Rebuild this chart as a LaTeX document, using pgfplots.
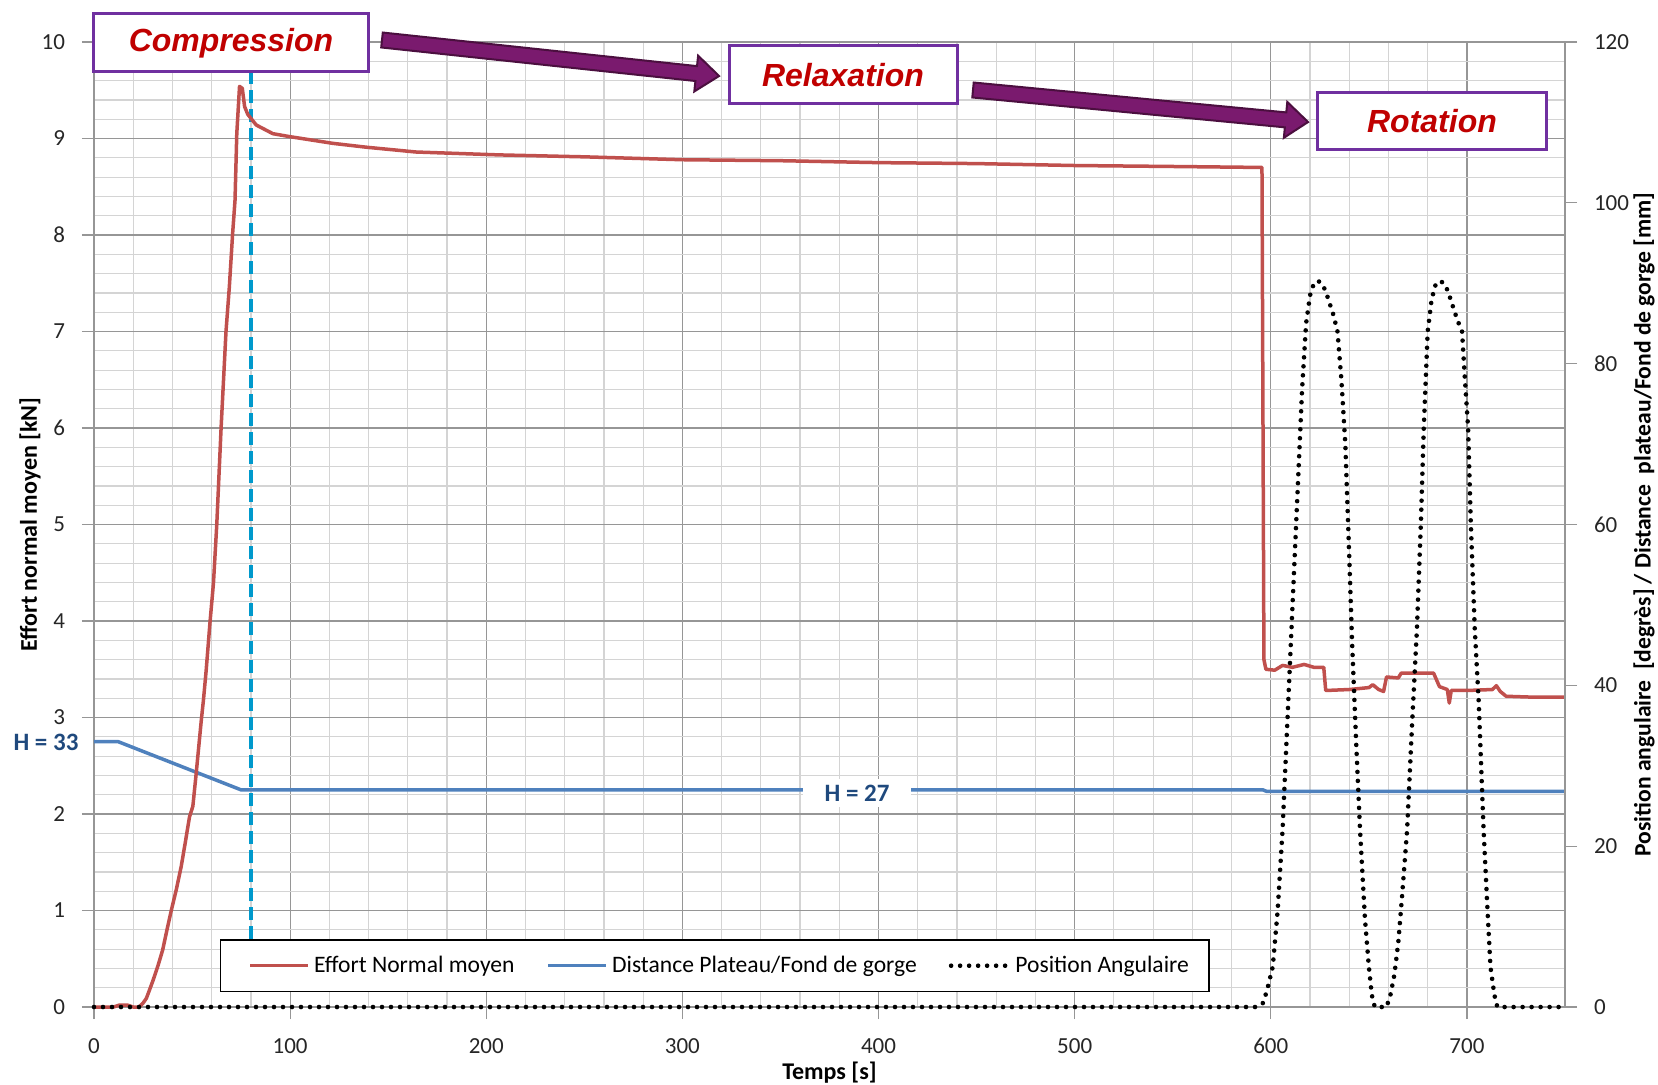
\documentclass[border=0pt]{standalone}
\usepackage{pgfplots}
\pgfplotsset{compat=1.18}
\usepackage{pgfplotstable}
\usepackage{fontspec}
\setmainfont{Carlito}
\newfontfamily\arialf{Liberation Sans}
\definecolor{cred}{RGB}{192,80,77}
\definecolor{cblue}{RGB}{79,129,189}
\definecolor{cdash}{RGB}{0,153,204}
\definecolor{gridmaj}{RGB}{150,150,150}
\definecolor{gridmin}{RGB}{212,212,212}
\definecolor{boxpurple}{RGB}{112,48,160}
\definecolor{titlered}{RGB}{192,0,0}
\definecolor{arrowfill}{RGB}{122,26,110}
\definecolor{arrowdraw}{RGB}{75,15,63}
\definecolor{hblue}{RGB}{31,73,125}

\pgfplotstableread{
x y
0 0
10 0.0
13 0.02
17 0.02
20 0.0
23 0.0
25 0.04
26.7 0.09
28 0.16
30 0.27
32.5 0.42
35 0.59
37 0.78
39.4 1.0
42 1.22
44.5 1.46
46.5 1.7
48.7 1.97
50.4 2.08
52.1 2.42
54.7 2.97
55.8 3.18
57.2 3.49
59.2 4.0
60.9 4.39
62.6 5.0
64.8 6.0
67.3 7.0
69 7.46
70.7 8.02
71.9 8.36
72.8 9.05
74.2 9.54
75.6 9.52
76.8 9.33
78.4 9.25
82.7 9.14
91.2 9.05
99.6 9.02
121.7 8.95
138.7 8.91
164.2 8.86
206.6 8.83
250 8.81
300 8.78
350 8.77
400 8.75
450 8.74
500 8.72
550 8.71
595.5 8.70
596.5 3.6
597.5 3.50
602 3.49
606 3.54
611 3.52
617 3.55
622 3.52
627 3.52
628 3.28
640 3.29
650 3.31
652 3.34
655 3.29
657.5 3.27
659 3.42
665 3.41
666.5 3.46
683 3.46
686 3.32
690 3.29
691 3.15
692 3.28
700 3.28
713 3.29
715 3.33
717 3.27
720 3.22
735 3.21
750 3.21
}\effort

\pgfplotstableread{
x y
0 33
12.3 33
75 27
78 27
596 27
598 26.8
750 26.8
}\distance

\pgfplotstableread{
x y
0 0
593 0
596 0.5
598 2
601 5
603.5 12
606 22
608 33
610 44
612 55
614 66
616 77
618 85
620 88.5
622 90
624 90.3
626 90
628 89
630 87.5
632 86
634 84
636 78
638 70
640 56
641.5 45
643.5 33
645.5 22
648 11
650 5
651.5 1.5
653 0
659 0
661 1.5
663 4
665 8
667 14
669.5 22
672 35
674.5 47
676.5 60
678 72
680 84
682 88
684 89.8
686.5 90.3
689 89.8
691 88.5
693 87
695 85.5
697.5 84
699 78
700.6 72
702 60
704 47
706 38
708.5 22
710.5 12
712 5
714 1.5
715.5 0
750 0
}\angle

\begin{document}
\begin{tikzpicture}[x=1pt,y=1pt]
\useasboundingbox (-47,-38.5) rectangle (782,503.5);
\begin{axis}[
  at={(0,0)}, anchor=south west, scale only axis,
  width=735.5pt, height=482.5pt,
  xmin=0, xmax=750, ymin=0, ymax=10,
  axis y line*=left, axis x line*=bottom,
  xtick={0,100,...,700}, minor x tick num=4,
  ytick={0,1,...,10}, minor y tick num=4,
  grid=both,
  major grid style={gridmaj, line width=0.6pt},
  minor grid style={gridmin, line width=0.6pt},
  tick style={gridmaj, line width=0.6pt},
  major tick length=6pt, minor tick length=0pt,
  tick align=outside,
  axis line style={gridmaj, line width=0.8pt, -},
  tick label style={font=\fontsize{11.5}{12}\selectfont, text=black!85},
  /pgf/number format/assume math mode=true,
  xticklabel style={yshift=-6pt},
  yticklabel style={xshift=-5pt},
  xlabel={Temps [s]},
  ylabel={Effort normal moyen [kN]},
  label style={font=\bfseries\fontsize{12}{12}\selectfont},
  xlabel style={at={(axis description cs:0.5,-0.0684)}, anchor=center},
  ylabel style={at={(axis description cs:-0.0435,0.5)}, anchor=center},
  clip=false,
]
\draw[cdash, line width=1.65pt, dash pattern=on 6.5pt off 3pt] (axis cs:80,0.7) -- (axis cs:80,10);
\addplot[cblue, line width=1.75pt, line join=round] table[x=x, y expr=\thisrow{y}/12] {\distance};
\addplot[cred, line width=1.75pt, line join=round] table[x=x, y=y] {\effort};
\end{axis}
\begin{axis}[
  at={(0,0)}, anchor=south west, scale only axis,
  width=735.5pt, height=482.5pt,
  xmin=0, xmax=750, ymin=0, ymax=120,
  axis y line*=right, axis x line=none,
  ytick={0,20,...,120},
  tick style={gridmaj, line width=0.6pt},
  major tick length=6pt, tick align=outside,
  axis line style={gridmaj, line width=0.8pt, -},
  tick label style={font=\fontsize{11.5}{12}\selectfont, text=black!85},
  /pgf/number format/assume math mode=true,
  yticklabel style={xshift=5pt},
  ylabel={Position angulaire\ \ [degrès] / Distance\ \ plateau/Fond de gorge [mm]},
  ylabel style={font=\bfseries\fontsize{11.8}{12}\selectfont, at={(axis description cs:1.0537,0.5)}, anchor=center},
  legend columns=3,
  legend style={at={(63pt,7.5pt)}, anchor=south west, draw=black, line width=0.6pt, fill=white,
    font=\fontsize{11.8}{12}\selectfont, inner xsep=14pt, inner ysep=6pt,
    /tikz/every even column/.append style={column sep=14pt}},
  legend cell align=left,
  legend image code/.code={\draw[#1] (0pt,0pt) -- (29pt,0pt);},
  clip=false,
]
\addlegendimage{cred, line width=1.75pt}
\addlegendentry{Effort Normal moyen}
\addlegendimage{cblue, line width=1.75pt}
\addlegendentry{Distance Plateau/Fond de gorge}
\addplot[black, line width=2.3pt, line cap=round, dash pattern=on 0pt off 4.5pt] table[x=x, y=y] {\angle};
\addlegendentry{Position Angulaire\hspace*{-6pt}}
\end{axis}

% annotations
\node[text=hblue, font=\bfseries\fontsize{12.5}{13}\selectfont, inner sep=0pt] at (-24,132.5) {H = 33};
\node[fill=white, text=hblue, font=\bfseries\fontsize{12.5}{13}\selectfont, minimum width=54pt, minimum height=14pt, inner sep=0pt] at (381.5,107) {H = 27};

\node[draw=boxpurple, line width=1.5pt, fill=white, minimum width=137pt, minimum height=29pt, inner sep=0pt,
  font=\arialf\bfseries\itshape\fontsize{16}{16}\selectfont, text=titlered] at (68.5,482) {Compression};
\node[draw=boxpurple, line width=1.5pt, fill=white, minimum width=114pt, minimum height=29pt, inner sep=0pt,
  font=\arialf\bfseries\itshape\fontsize{16}{16}\selectfont, text=titlered] at (374.5,466) {Relaxation};
\node[draw=boxpurple, line width=1.5pt, fill=white, minimum width=114.5pt, minimum height=28.5pt, inner sep=0pt,
  font=\arialf\bfseries\itshape\fontsize{16}{16}\selectfont, text=titlered] at (669,443) {Rotation};

\begin{scope}[shift={(144,483.5)}, rotate=-6.1]
\filldraw[fill=arrowfill, draw=arrowdraw, line width=1pt, line join=miter]
  (0,-3.75) -- (158,-3.75) -- (158,-9) -- (169.5,0) -- (158,9) -- (158,3.75) -- (0,3.75) -- cycle;
\end{scope}
\begin{scope}[shift={(439.5,458.5)}, rotate=-5.46]
\filldraw[fill=arrowfill, draw=arrowdraw, line width=1pt, line join=miter]
  (0,-3.75) -- (157,-3.75) -- (157,-9) -- (168.3,0) -- (157,9) -- (157,3.75) -- (0,3.75) -- cycle;
\end{scope}
\end{tikzpicture}
\end{document}
